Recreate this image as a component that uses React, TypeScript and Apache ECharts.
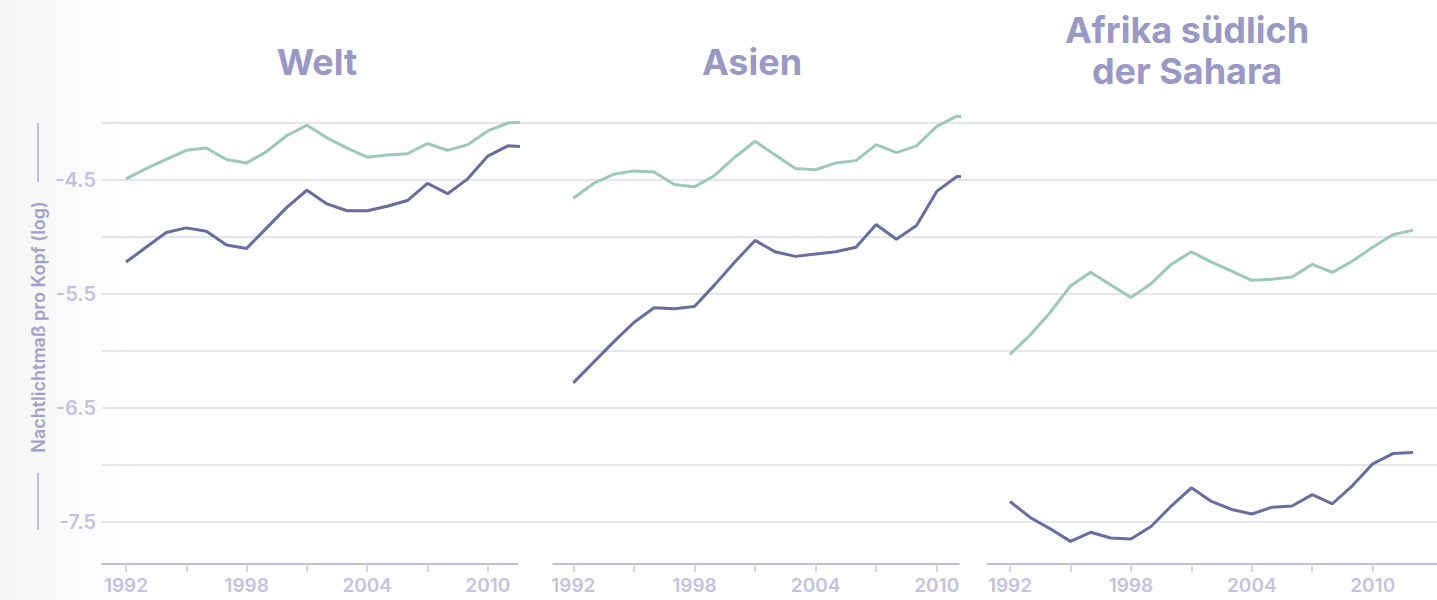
import React, { useEffect, useRef } from "react";
import * as echarts from "echarts";

// ---------- data ----------
const years = [1992, 1993, 1994, 1995, 1996, 1997, 1998, 1999, 2000, 2001, 2002, 2003, 2004, 2005, 2006, 2007, 2008, 2009, 2010, 2011, 2012];
const xTickYears = [1992, 1995, 1998, 2001, 2004, 2007, 2010];
const xLabelYears = [1992, 1998, 2004, 2010];
const yLabelValues = [-4.5, -5.5, -6.5, -7.5];
const yAxisName = "Nachtlichtmaß pro Kopf (log)";

const weltGruen = [-4.49, -4.40, -4.32, -4.24, -4.22, -4.32, -4.35, -4.25, -4.11, -4.02, -4.13, -4.22, -4.30, -4.28, -4.27, -4.18, -4.24, -4.19, -4.07, -4.00, -3.99];
const weltBlau = [-5.22, -5.09, -4.96, -4.92, -4.95, -5.07, -5.10, -4.92, -4.74, -4.59, -4.71, -4.77, -4.77, -4.73, -4.68, -4.53, -4.62, -4.49, -4.29, -4.20, -4.21];

const asienGruen = [-4.66, -4.53, -4.45, -4.42, -4.43, -4.54, -4.56, -4.46, -4.30, -4.16, -4.28, -4.40, -4.41, -4.35, -4.33, -4.19, -4.26, -4.20, -4.03, -3.94, -3.96];
const asienBlau = [-6.28, -6.10, -5.92, -5.75, -5.62, -5.63, -5.61, -5.42, -5.22, -5.03, -5.13, -5.17, -5.15, -5.13, -5.09, -4.89, -5.02, -4.90, -4.60, -4.47, -4.48];

const afrikaGruen = [-6.03, -5.86, -5.66, -5.43, -5.31, -5.42, -5.53, -5.41, -5.24, -5.13, -5.22, -5.30, -5.38, -5.37, -5.35, -5.24, -5.31, -5.21, -5.09, -4.98, -4.94];
const afrikaBlau = [-7.32, -7.46, -7.56, -7.67, -7.59, -7.64, -7.65, -7.54, -7.36, -7.20, -7.32, -7.39, -7.43, -7.37, -7.36, -7.26, -7.34, -7.18, -6.99, -6.90, -6.89];

const panelTitles = [["Welt"], ["Asien"], ["Afrika südlich", "der Sahara"]];
const panelSeries = [
  [weltGruen, weltBlau],
  [asienGruen, asienBlau],
  [afrikaGruen, afrikaBlau],
];

// ---------- layout / style ----------
const W = 1437;
const H = 600;
const GRID_TOP = 123;     // y of -4.0
const GRID_BOTTOM_Y = 522; // y of -7.5
const AXIS_LINE_Y = 564;
const panels = [
  { left: 102, right: 518, x0: 126, ppy: 20.1, titleX: 317, titleY: [62] },
  { left: 553, right: 959, x0: 573.3, ppy: 20.19, titleX: 752, titleY: [62] },
  { left: 987, right: 1437, x0: 1010, ppy: 20.15, titleX: 1187, titleY: [30, 71] },
];
const GREEN = "#9ccab7";
const NAVY = "#686c9e";
const TITLE = "#9a98c4";
const LABEL = "#c4c2de";
const GRIDLINE = "#dcdbeb";
const AXIS = "#aaa8d2";
const TICK = "#d6d4ea";
const FONT = "Inter, 'Liberation Sans', sans-serif";

export default function App() {
  const ref = useRef<HTMLDivElement>(null);

  useEffect(() => {
    if (!ref.current) return;
    const chart = echarts.init(ref.current, undefined, { renderer: "svg" });

    const grids: any[] = [
      { left: panels[0].left, right: 0, top: GRID_TOP, bottom: H - GRID_BOTTOM_Y },
      ...panels.map((p) => ({ left: p.left, width: p.right - p.left, top: GRID_TOP, bottom: H - GRID_BOTTOM_Y })),
    ];

    const xAxes: any[] = [
      { gridIndex: 0, type: "value", show: false, min: 0, max: 1 },
      ...panels.map((p, i) => {
        const min = years[0] - (p.x0 - p.left) / p.ppy;
        const max = min + (p.right - p.left) / p.ppy;
        return {
          gridIndex: i + 1,
          type: "value",
          min,
          max,
          offset: AXIS_LINE_Y - GRID_BOTTOM_Y,
          axisLine: { show: true, lineStyle: { color: AXIS, width: 1.5 } },
          axisTick: { show: true, customValues: xTickYears, length: 8, lineStyle: { color: TICK, width: 2 } },
          axisLabel: {
            show: true,
            customValues: xLabelYears,
            formatter: (v: number) => String(Math.round(v)),
            color: LABEL,
            fontSize: 19,
            fontWeight: 600,
            fontFamily: FONT,
            margin: 12,
          },
          splitLine: { show: false },
        };
      }),
    ];

    const yAxes: any[] = [
      {
        gridIndex: 0,
        type: "value",
        min: -7.5,
        max: -4,
        interval: 0.5,
        axisLine: { show: false },
        axisTick: { show: false },
        splitLine: { show: true, lineStyle: { color: GRIDLINE, width: 1.5 } },
        axisLabel: {
          show: true,
          formatter: (v: number) => (yLabelValues.some((l) => Math.abs(l - v) < 1e-6) ? v.toFixed(1) : ""),
          color: LABEL,
          fontSize: 20,
          fontWeight: 600,
          fontFamily: FONT,
          margin: 6,
        },
      },
      ...panels.map((p, i) => ({ gridIndex: i + 1, type: "value", min: -7.5, max: -4, show: false, splitLine: { show: false } })),
    ];

    const series: any[] = [];
    panelSeries.forEach((pair, i) => {
      pair.forEach((vals, k) => {
        series.push({
          type: "line",
          xAxisIndex: i + 1,
          yAxisIndex: i + 1,
          data: years.map((y, j) => [y, vals[j]]),
          showSymbol: false,
          clip: false,
          lineStyle: { color: k === 0 ? GREEN : NAVY, width: 3 },
          itemStyle: { color: k === 0 ? GREEN : NAVY },
          z: 3,
        });
      });
    });

    const graphic: any[] = [
      {
        type: "rect",
        silent: true,
        z: -10,
        shape: { x: 0, y: 0, width: 130, height: H },
        style: {
          fill: new echarts.graphic.LinearGradient(0, 0, 1, 0, [
            { offset: 0, color: "#f5f5f5" },
            { offset: 1, color: "#ffffff" },
          ]),
        },
      },
      {
        type: "line",
        silent: true,
        shape: { x1: 38, y1: 123, x2: 38, y2: 182 },
        style: { stroke: "#aeacd0", lineWidth: 1.5 },
      },
      {
        type: "line",
        silent: true,
        shape: { x1: 38, y1: 473, x2: 38, y2: 530 },
        style: { stroke: "#aeacd0", lineWidth: 1.5 },
      },
      {
        type: "text",
        silent: true,
        x: 38,
        y: 327,
        rotation: Math.PI / 2,
        style: {
          text: yAxisName,
          fill: "#a4a2ca",
          font: `600 18px ${FONT}`,
          textAlign: "center",
          textVerticalAlign: "middle",
        },
      },
    ];
    panels.forEach((p, i) => {
      panelTitles[i].forEach((line, k) => {
        graphic.push({
          type: "text",
          silent: true,
          x: p.titleX,
          y: p.titleY[k],
          style: {
            text: line,
            fill: TITLE,
            font: `bold 36px ${FONT}`,
            textAlign: "center",
            textVerticalAlign: "middle",
          },
        });
      });
    });

    chart.setOption({
      animation: false,
      backgroundColor: "#ffffff",
      grid: grids,
      xAxis: xAxes,
      yAxis: yAxes,
      series,
      graphic,
    });

    return () => chart.dispose();
  }, []);

  return (
    <div
      ref={ref}
      style={{ position: "fixed", left: 0, top: 0, width: W, height: H }}
    />
  );
}
